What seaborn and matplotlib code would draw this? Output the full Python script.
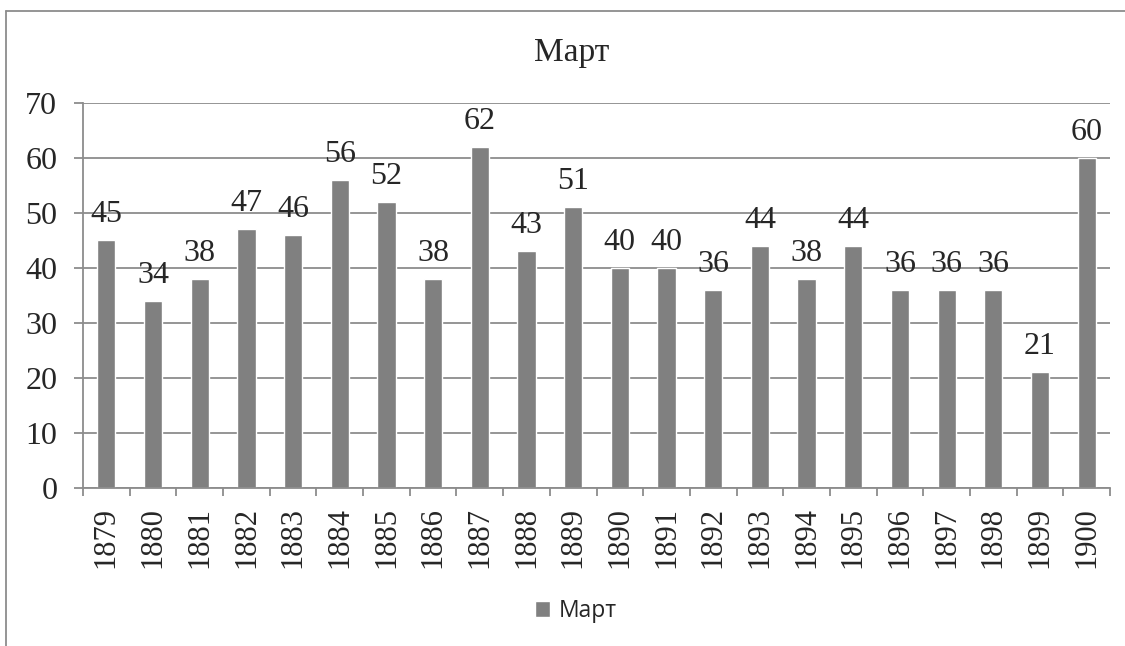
import matplotlib
matplotlib.use("Agg")
import matplotlib.pyplot as plt
from matplotlib.lines import Line2D
import seaborn as sns
import pandas as pd

years = ["1879", "1880", "1881", "1882", "1883", "1884", "1885", "1886", "1887", "1888", "1889",
         "1890", "1891", "1892", "1893", "1894", "1895", "1896", "1897", "1898", "1899", "1900"]
march = [45, 34, 38, 47, 46, 56, 52, 38, 62, 43, 51,
         40, 40, 36, 44, 38, 44, 36, 36, 36, 21, 60]
yticks = [0, 10, 20, 30, 40, 50, 60, 70]
title = "Март"

df = pd.DataFrame({"year": years, "value": march})

sns.set_style("white")
plt.rcParams['font.family'] = ['Liberation Serif', 'DejaVu Serif']

fig = plt.figure(figsize=(11.25, 6.46), dpi=100)
ax = fig.add_axes([0.0738, 0.2446, 0.9129, 0.596])

sns.barplot(data=df, x="year", y="value", color="#808080", width=0.39,
            saturation=1, label=title, ax=ax)

ax.set_ylim(0, 70)
ax.set_yticks(yticks)
ax.set_xlim(-0.5, len(years) - 0.5)
ax.yaxis.grid(True, color="#8c8c8c", linewidth=1.3)
ax.set_axisbelow(True)
for s in ["top", "right"]:
    ax.spines[s].set_visible(False)
for s in ["left", "bottom"]:
    ax.spines[s].set_color("#8c8c8c")
    ax.spines[s].set_linewidth(1.3)

ax.set_xlabel("")
ax.set_ylabel("")
ax.tick_params(axis="y", labelsize=23, length=6.5, width=1.3, color="#8c8c8c", pad=12, left=True)
ax.tick_params(axis="x", labelsize=22, length=0, pad=14, rotation=90)
ax.set_xticks([i + 0.5 for i in range(-1, len(years))], minor=True)
ax.tick_params(axis="x", which="minor", length=6, width=1.3, color="#8c8c8c", bottom=True)

for i, v in enumerate(march):
    ax.annotate(str(v), (i, v), xytext=(0, 13), textcoords="offset points",
                ha="center", va="baseline", fontsize=23)

fig.text(0.508, 1 - 61 / 646, title, ha="center", va="baseline", fontsize=24)

leg = ax.legend(loc="center", bbox_to_anchor=(0.512, 0.054), bbox_transform=fig.transFigure,
                frameon=False, prop={"family": "Open Sans", "size": 16.5},
                handlelength=0.65, handleheight=0.65, handletextpad=0.35)

fig.add_artist(Line2D([6 / 1125, 6 / 1125], [0, 1 - 11 / 646], transform=fig.transFigure,
                      color="#8c8c8c", linewidth=1.3))
fig.add_artist(Line2D([6 / 1125, 1], [1 - 11 / 646, 1 - 11 / 646], transform=fig.transFigure,
                      color="#8c8c8c", linewidth=1.3))

fig.savefig("out.png", dpi=100)
